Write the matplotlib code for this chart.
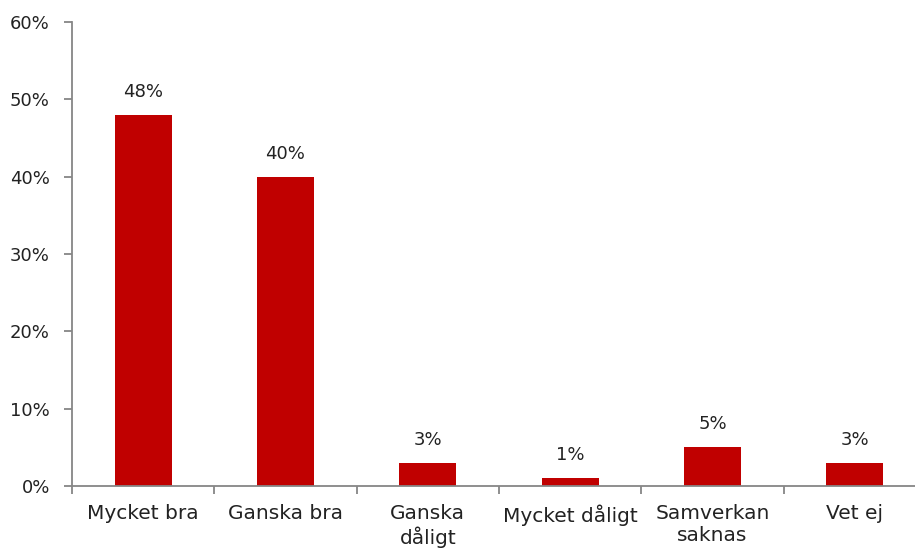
import matplotlib.pyplot as plt

categories = ["Mycket bra", "Ganska bra", "Ganska\ndåligt", "Mycket dåligt", "Samverkan\nsaknas", "Vet ej"]
values = [48, 40, 3, 1, 5, 3]

plt.rcParams['font.family'] = ['DejaVu Sans']

fig = plt.figure(figsize=(9.15, 5.48), dpi=100)
ax = fig.add_axes([72 / 915, 62 / 548, 854 / 915, 464 / 548])

x = range(len(categories))
bars = ax.bar(x, values, width=0.4, color='#C00000')

for xi, v in zip(x, values):
    ax.annotate(f"{v}%", (xi, v), xytext=(0, 10), textcoords='offset points',
                ha='center', va='bottom', fontsize=13, color='#222222')

ax.set_xlim(-0.5, len(categories) - 0.5)
ax.set_ylim(0, 60)
ax.set_yticks(range(0, 61, 10))
ax.set_yticklabels([f"{t}%" for t in range(0, 61, 10)])
ax.set_xticks(list(x))
ax.set_xticklabels(categories, linespacing=1.2)
ax.set_xticks([i - 0.5 for i in range(len(categories) + 1)], minor=True)

for s in ['top', 'right']:
    ax.spines[s].set_visible(False)
for s in ['left', 'bottom']:
    ax.spines[s].set_color('#868686')
    ax.spines[s].set_linewidth(1.3)

ax.tick_params(axis='y', length=6, color='#868686', width=1.3, labelsize=13, pad=10, labelcolor='#222222')
ax.tick_params(axis='x', which='major', length=0, labelsize=14.5, pad=13, labelcolor='#222222')
ax.tick_params(axis='x', which='minor', length=6, color='#868686', width=1.3)

fig.savefig('out.png', dpi=100)
